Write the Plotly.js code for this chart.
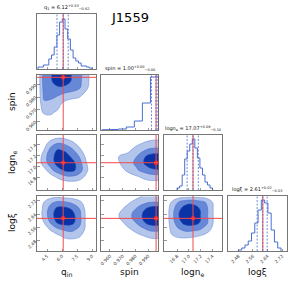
<!DOCTYPE html>
<html><head><meta charset="utf-8">
<script src="https://cdn.plot.ly/plotly-3.0.1.min.js"></script>
<style>html,body{margin:0;padding:0;background:#fff;}#chart{width:291px;height:289px;}</style>
</head><body><div id="chart"></div>
<script>
// ---------- data ----------
const varLabels = ['q<sub>in</sub>', 'spin', 'logn<sub>e</sub>', 'logξ'];
const histTitles = [
  'q<sub>1</sub> = 6.12<sup>+0.53</sup><sub>−0.62</sub>',
  'spin = 1.00<sup>+0.00</sup><sub>−0.00</sub>',
  'logn<sub>e</sub> = 17.07<sup>+0.09</sup><sub>−0.10</sub>',
  'logξ = 2.61<sup>+0.02</sup><sub>−0.03</sub>'
];
const chartTitle = 'J1559';

const qinTicks = [4.5, 6.0, 7.5, 9.0];
const qinTickText = ['4.5', '6.0', '7.5', '9.0'];
const spinTicks = [0.96, 0.97, 0.98, 0.99];
const spinTickText = ['0.960', '0.970', '0.980', '0.990'];
const neTicks = [16.8, 17.0, 17.2, 17.4];
const neTickText = ['16.8', '17.0', '17.2', '17.4'];
const xiTicks = [2.48, 2.56, 2.64, 2.72];
const xiTickText = ['2.48', '2.56', '2.64', '2.72'];

const truths = [6.12, 0.9961, 17.07, 2.614];
const qinQuant = [5.50, 6.12, 6.62];
const spinQuant = [0.9925, 0.9961, 0.9975];
const neQuant = [16.97, 17.07, 17.16];
const xiQuant = [2.583, 2.614, 2.638];

const qinEdges = [3.60,3.87,4.14,4.41,4.68,4.95,5.22,5.49,5.76,6.03,6.30,6.57,6.84,7.11,7.38,7.65,7.92,8.19,8.46,8.73,9.00];
const qinCounts = [2,2,4,4,10,14,22,34,47,50,40,30,19,11,8,6,3,3,2,1];
const spinEdges = [0.9539,0.9602,0.9665,0.9728,0.9791,0.9854,0.9917,0.9980];
const spinCounts = [0.3,0.5,1,3,9,27,53];
const neEdges = [16.800,16.843,16.886,16.929,16.972,17.015,17.058,17.101,17.144,17.187,17.230,17.273,17.316,17.359,17.402];
const neCounts = [2,4,15,31,39,46,51,42,32,22,15,8,5,2];
const xiEdges = [2.480,2.498,2.516,2.534,2.552,2.570,2.588,2.606,2.624,2.642,2.660,2.678,2.696,2.714];
const xiCounts = [1,3,6,10,18,28,41,51,48,38,21,9,3];

// density grids
const qGrid = [3.5,4.2,4.9,5.6,6.3,7.0,7.7,8.4,9.1];
const spinGrid = [0.953,0.960,0.967,0.974,0.981,0.988,0.993,0.998];
const neGrid = [16.58,16.70,16.82,16.94,17.06,17.18,17.30,17.42,17.54];
const xiGrid = [2.43,2.47,2.51,2.55,2.59,2.63,2.67,2.71,2.745];

const zQinSpin = [
  [0,0,0,0,0,0,0,0,0],
  [0,0.5,0.6,0.3,0,0,0,0,0],
  [0,1.1,1.1,0.8,0.2,0,0,0,0],
  [0,1.8,1.7,1.3,0.6,0.3,0.2,0,0],
  [0,2.2,2.2,2.0,1.6,1.4,1.2,0.6,0],
  [0,2.4,2.7,2.9,2.8,2.6,2.2,1.3,0.3],
  [0,2.5,2.9,3.5,3.5,2.9,2.3,1.4,0.4],
  [0,2.5,2.9,3.7,3.7,2.9,2.4,1.4,0.4]
];
const zQinNe = [
  [0,0,0,0,0,0,0,0,0],
  [0,0,0,0.2,0.5,0.6,0.5,0.2,0],
  [0,0.2,0.6,1.3,1.8,1.9,1.6,0.8,0],
  [0,0.6,1.8,2.6,3.2,3.3,2.6,1.3,0.1],
  [0,1.6,2.4,3.5,3.8,3.4,2.5,1.1,0.1],
  [0,1.6,2.6,3.5,3.5,2.8,2.0,0.8,0],
  [0,1.0,2.4,3.1,2.8,2.2,1.3,0.4,0],
  [0,0.5,1.5,2.0,1.8,1.3,0.6,0,0],
  [0,0,0.4,0.7,0.6,0.3,0,0,0]
];
const zQinXi = [
  [0,0,0,0,0,0,0,0,0],
  [0,0,0,0.2,0.4,0.5,0.3,0,0],
  [0,0,0.3,0.8,1.3,1.4,1.2,0.4,0],
  [0,0.4,1.2,1.9,2.2,2.3,1.8,0.8,0],
  [0,1.0,2.2,3.2,3.5,3.3,2.4,0.8,0],
  [0,1.4,2.6,3.6,3.8,3.4,2.4,0.8,0],
  [0,1.3,2.5,3.3,3.3,2.9,2.1,0.7,0],
  [0,1.0,1.8,2.2,2.1,1.8,1.3,0.5,0],
  [0,0.3,0.6,0.7,0.6,0.5,0.3,0,0]
];
const zSpinNe = [
  [0,0,0,0,0,0,0.2,0.3],
  [0,0,0,0,0.2,0.5,0.6,0.5],
  [0,0,0,0.4,0.9,1.4,1.6,1.6],
  [0,0,0.4,1.3,1.9,2.5,2.8,2.9],
  [0,0.2,0.9,1.6,2.2,3.2,3.8,3.9],
  [0,0.1,1.0,1.4,2.0,3.0,3.5,3.6],
  [0,0,0,0.7,1.5,2.0,2.2,2.2],
  [0,0,0,0,0.7,1.2,1.4,1.5],
  [0,0,0,0,0,0.3,0.5,0.5]
];
const zSpinXi = [
  [0,0,0,0,0,0,0,0],
  [0,0,0,0,0,0.3,0.5,0.5],
  [0,0,0,0.3,0.7,1.1,1.3,1.3],
  [0,0,0.2,0.8,1.4,2.0,2.3,2.3],
  [0,0,0.6,1.4,2.1,3.1,3.5,3.5],
  [0,0.2,1.0,1.7,2.4,3.4,3.9,4.0],
  [0,0,0.7,1.4,2.1,3.0,3.5,3.6],
  [0,0,0.2,0.8,1.4,1.8,2.0,2.0],
  [0,0,0,0.2,0.7,1.2,1.5,1.6]
];
const zNeXi = [
  [0,0,0,0,0,0,0,0,0],
  [0,0.3,0.4,0.3,0.2,0.1,0,0,0],
  [0,0.9,1.2,1.3,1.2,1.0,0.6,0.2,0],
  [0,1.2,1.9,2.3,2.3,2.1,1.6,0.6,0],
  [0,1.4,2.6,3.4,3.5,3.0,2.2,0.9,0],
  [0,1.5,2.9,3.8,3.9,3.1,2.2,0.9,0],
  [0,1.4,2.7,3.5,3.6,3.0,2.2,0.9,0],
  [0,1.0,2.0,2.6,2.7,2.4,1.9,0.8,0],
  [0,0.2,0.5,0.6,0.7,0.6,0.5,0.2,0]
];

// ---------- layout helpers ----------
const W = 291, H = 289;
const COLS = [[37,96],[101,158.5],[164,222.5],[227.5,287]];
const ROWS = [[14,69],[75,130],[135,190],[196,251]];
const ranges = [[3.5,9.4],[0.953,0.998],[16.578,17.57],[2.42,2.747]];
const tickVals = [qinTicks, spinTicks, neTicks, xiTicks];
const tickTexts = [qinTickText, spinTickText, neTickText, xiTickText];
const hists = [[qinEdges,qinCounts],[spinEdges,spinCounts],[neEdges,neCounts],[xiEdges,xiCounts]];
const quants = [qinQuant, spinQuant, neQuant, xiQuant];
const grids = [qGrid, spinGrid, neGrid, xiGrid];
const pairs = [
  {r:1,c:0,z:zQinSpin},{r:2,c:0,z:zQinNe},{r:3,c:0,z:zQinXi},
  {r:2,c:1,z:zSpinNe},{r:3,c:1,z:zSpinXi},{r:3,c:2,z:zNeXi}
];

const FONT = 'DejaVu Sans, Arial, sans-serif';
const HISTC = '#4a6fd0';
const LEVELS = [1,2,3];
const FILLS = ['#b4c5ec','#6688d6','#0a33a6'];
const LINEC = ['#6d8edb','#4a6fd0','#1a3fae'];
const RED = '#f24a4a';

const ax = (k,p) => p + 'axis' + (k===1 ? '' : k);
const rf = (k,p) => p + (k===1 ? '' : k);

const layout = {
  width: W, height: H, margin:{l:0,r:0,t:0,b:0},
  paper_bgcolor:'#fff', plot_bgcolor:'#fff', showlegend:false,
  font:{family:FONT}, shapes:[], annotations:[]
};
const traces = [];

function baseAxis(){
  return {showgrid:false, zeroline:false, showline:true, mirror:true,
    linecolor:'#555', linewidth:0.8, ticks:'inside', ticklen:2.5, tickwidth:0.6,
    tickcolor:'#555', tickangle:-45, tickfont:{size:4.5, family:FONT, color:'#333'},
    fixedrange:true, automargin:false};
}

for (let r=0; r<4; r++){
  for (let c=0; c<=r; c++){
    const k = r*4 + c + 1;
    const xa = baseAxis();
    Object.assign(xa, {domain:[COLS[c][0]/W, COLS[c][1]/W], range:ranges[c],
      anchor:rf(k,'y'), tickmode:'array', tickvals:tickVals[c], ticktext:tickTexts[c],
      showticklabels: r===3});
    layout[ax(k,'x')] = xa;
    const ya = baseAxis();
    Object.assign(ya, {domain:[1-ROWS[r][1]/H, 1-ROWS[r][0]/H], anchor:rf(k,'x')});
    if (r===c){
      Object.assign(ya, {range:[0,55], ticks:'', showticklabels:false});
    } else {
      Object.assign(ya, {range:ranges[r], tickmode:'array', tickvals:tickVals[r],
        ticktext:tickTexts[r], showticklabels: c===0});
    }
    layout[ax(k,'y')] = ya;

    layout.shapes.push({type:'line', xref:rf(k,'x'), yref:rf(k,'y')+' domain',
      x0:truths[c], x1:truths[c], y0:0, y1:1, line:{color:RED, width:1}});
    if (r===c){
      const [edges, counts] = hists[c];
      const xs = [edges[0]].concat(edges);
      const ys = [0].concat(counts).concat([0]);
      traces.push({type:'scatter', mode:'lines', x:xs, y:ys, xaxis:rf(k,'x'), yaxis:rf(k,'y'),
        line:{color:HISTC, width:1, shape:'hv'}, hoverinfo:'skip'});
      quants[c].forEach(q => layout.shapes.push({type:'line', xref:rf(k,'x'), yref:rf(k,'y')+' domain',
        x0:q, x1:q, y0:0, y1:1, line:{color:HISTC, width:0.8, dash:'2px,1.5px'}}));
      layout.annotations.push({xref:'paper', yref:'paper',
        x:(COLS[c][0]+COLS[c][1])/2/W, y:1-(ROWS[r][0]-1)/H, yanchor:'bottom', xanchor:'center',
        text:histTitles[c], showarrow:false, font:{size:5, family:FONT, color:'#111'}});
    } else {
      layout.shapes.push({type:'line', xref:rf(k,'x')+' domain', yref:rf(k,'y'),
        x0:0, x1:1, y0:truths[r], y1:truths[r], line:{color:RED, width:1}});
    }
  }
}

pairs.forEach(p => {
  const k = p.r*4 + p.c + 1;
  LEVELS.forEach((lv,i) => {
    traces.push({type:'contour', x:grids[p.c], y:grids[p.r], z:p.z,
      xaxis:rf(k,'x'), yaxis:rf(k,'y'), showscale:false, hoverinfo:'skip',
      contours:{type:'constraint', operation:'<', value:lv},
      fillcolor:FILLS[i], line:{color:LINEC[i], width:0.6, smoothing:1.3}});
  });
  traces.push({type:'scatter', mode:'markers', x:[truths[p.c]], y:[truths[p.r]],
    xaxis:rf(k,'x'), yaxis:rf(k,'y'), marker:{color:'#ff1a1a', size:4.5}, hoverinfo:'skip'});
});

const leftY = [null, 102, 163, 223];
for (let r=1; r<4; r++){
  layout.annotations.push({xref:'paper', yref:'paper', x:12/W, y:1-leftY[r]/H,
    xanchor:'center', yanchor:'middle',
    text:varLabels[r], textangle:-90, showarrow:false, font:{size:9, family:FONT, color:'#111'}});
}
const botX = [66, 129, 192, 257];
for (let c=0; c<4; c++){
  layout.annotations.push({xref:'paper', yref:'paper', x:botX[c]/W, y:1-272/H,
    xanchor:'center', yanchor:'middle',
    text:varLabels[c], showarrow:false, font:{size:9, family:FONT, color:'#111'}});
}
layout.annotations.push({xref:'paper', yref:'paper', x:130/W, y:1-18/H,
  xanchor:'center', yanchor:'middle',
  text:chartTitle, showarrow:false, font:{size:13, family:FONT, color:'#000'}});

Plotly.newPlot('chart', traces, layout, {staticPlot:true, displayModeBar:false});
</script></body></html>
